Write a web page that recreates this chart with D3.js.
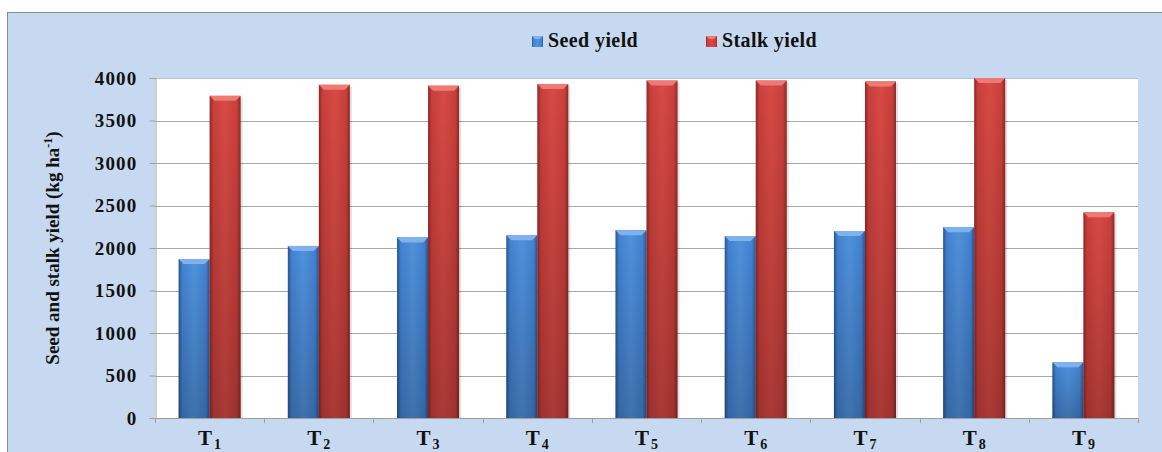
<!DOCTYPE html>
<html>
<head>
<meta charset="utf-8">
<script src="https://cdn.jsdelivr.net/npm/d3@7"></script>
<style>
	html, body { margin: 0; padding: 0; background: #fff; }
	svg { display: block; }
	svg text { font-family: "Liberation Serif", "DejaVu Serif", "Times New Roman", serif !important; font-weight: bold; }
</style>
</head>
<body>
<div id="chart"><svg></svg></div>
<script>
// values
const treatments = ['1', '2', '3', '4', '5', '6', '7', '8', '9'];
const seedYield = [1870, 2025, 2125, 2150, 2210, 2140, 2200, 2245, 655];
const stalkYield = [3790, 3920, 3910, 3930, 3970, 3970, 3960, 4000, 2420];
const seriesNames = ['Seed yield', 'Stalk yield'];
const yTicks = [0, 500, 1000, 1500, 2000, 2500, 3000, 3500, 4000];

const width = 1162;
const height = 452;
const plot = { left: 155, right: 1138, top: 78, bottom: 418 };

const $svg = d3.select('#chart svg').attr('width', width).attr('height', height);

function defs() {
	const $defs = $svg.append('defs');
	const shades = [
		{ id: 'blue', edge: '#2a5590', mid: '#4282d2', light: '#5192dc' },
		{ id: 'red', edge: '#8f2826', mid: '#c93f3b', light: '#d84a45' }
	];
	shades.forEach(s => {
		const h = $defs.append('linearGradient').attr('id', `h-${s.id}`)
			.attr('x1', 0).attr('x2', 1).attr('y1', 0).attr('y2', 0);
		h.append('stop').attr('offset', 0).attr('stop-color', s.edge);
		h.append('stop').attr('offset', 0.12).attr('stop-color', s.mid);
		h.append('stop').attr('offset', 0.5).attr('stop-color', s.light);
		h.append('stop').attr('offset', 0.88).attr('stop-color', s.mid);
		h.append('stop').attr('offset', 1).attr('stop-color', s.edge);

		const v = $defs.append('linearGradient').attr('id', `v-${s.id}`)
			.attr('x1', 0).attr('x2', 0).attr('y1', 0).attr('y2', 1);
		v.append('stop').attr('offset', 0).attr('stop-color', '#000').attr('stop-opacity', 0);
		v.append('stop').attr('offset', 1).attr('stop-color', '#000').attr('stop-opacity', 0.22);
	});
}

function setup() {
	defs();

	// background panel
	$svg.append('rect')
		.attr('x', 7.5).attr('y', 12.5)
		.attr('width', width).attr('height', height)
		.attr('fill', '#c6d9f0')
		.attr('stroke', '#8c8c8c');

	$svg.append('rect')
		.attr('x', plot.left).attr('y', plot.top)
		.attr('width', plot.right - plot.left).attr('height', plot.bottom - plot.top)
		.attr('fill', '#fff');

	const x0 = d3.scaleBand().domain(treatments).range([plot.left, plot.right]);
	const x1 = d3.scaleBand().domain(seriesNames).range([0, x0.bandwidth()])
		.paddingInner(0).paddingOuter(0.76);
	const y = d3.scaleLinear().domain([0, 4000]).range([plot.bottom, plot.top]);

	// gridlines
	$svg.append('g')
		.selectAll('line')
		.data(yTicks)
		.join('line')
		.attr('x1', plot.left).attr('x2', plot.right)
		.attr('y1', d => Math.round(y(d)) + 0.5).attr('y2', d => Math.round(y(d)) + 0.5)
		.attr('stroke', d => d === 4000 ? '#b4c2d4' : '#a8a8a8');

	// y axis
	const yAxis = d3.axisLeft(y).tickValues(yTicks).tickFormat(d3.format('d'))
		.tickSize(6).tickPadding(12);
	const $y = $svg.append('g')
		.attr('transform', `translate(${plot.left + 0.5},0)`)
		.call(yAxis)
		.attr('font-family', null);
	$y.select('.domain').attr('stroke', '#a0a0a0');
	$y.selectAll('.tick line').attr('stroke', '#a0a0a0');
	$y.selectAll('.tick text')
		.attr('font-size', 19)
		.attr('letter-spacing', 1.2)
		.attr('fill', '#111')
		.attr('dy', '0.33em');

	// x axis line and boundary ticks
	const $x = $svg.append('g');
	$x.append('line')
		.attr('x1', plot.left).attr('x2', plot.right)
		.attr('y1', plot.bottom + 0.5).attr('y2', plot.bottom + 0.5)
		.attr('stroke', '#a0a0a0');
	const bounds = treatments.map(t => x0(t)).concat([plot.right]);
	$x.selectAll('line.tk')
		.data(bounds)
		.join('line')
		.attr('class', 'tk')
		.attr('x1', d => Math.round(d) + 0.5).attr('x2', d => Math.round(d) + 0.5)
		.attr('y1', plot.bottom).attr('y2', plot.bottom + 5)
		.attr('stroke', '#a0a0a0');

	const $lab = $x.selectAll('text.cat')
		.data(treatments)
		.join('text')
		.attr('class', 'cat')
		.attr('x', d => x0(d) + x0.bandwidth() / 2)
		.attr('y', 445)
		.attr('text-anchor', 'middle')
		.attr('fill', '#111');
	$lab.append('tspan').attr('font-size', 21).text('T');
	$lab.append('tspan').attr('font-size', 14).attr('dx', 2).attr('dy', 4).text(d => d);

	// bars
	const rows = treatments.map((t, i) => ({ t, vals: [seedYield[i], stalkYield[i]] }));
	const colors = ['blue', 'red'];
	const $groups = $svg.append('g')
		.selectAll('g')
		.data(rows)
		.join('g')
		.attr('transform', d => `translate(${x0(d.t)},0)`);

	const $bars = $groups.selectAll('g')
		.data(d => d.vals.map((v, i) => ({ v, s: seriesNames[i], c: colors[i] })))
		.join('g');

	$bars.append('rect')
		.attr('x', d => x1(d.s) + 2).attr('y', d => y(d.v) + 2)
		.attr('width', x1.bandwidth()).attr('height', d => plot.bottom - y(d.v) - 2)
		.attr('fill', '#000').attr('opacity', 0.12);
	$bars.append('rect')
		.attr('x', d => x1(d.s)).attr('y', d => y(d.v))
		.attr('width', x1.bandwidth()).attr('height', d => plot.bottom - y(d.v))
		.attr('fill', d => `url(#h-${d.c})`);
	$bars.append('rect')
		.attr('x', d => x1(d.s)).attr('y', d => y(d.v))
		.attr('width', x1.bandwidth()).attr('height', d => plot.bottom - y(d.v))
		.attr('fill', d => `url(#v-${d.c})`);
	// top bevel
	$bars.append('path')
		.attr('d', d => {
			const l = x1(d.s), r = l + x1.bandwidth(), t = y(d.v);
			return `M${l},${t}L${r},${t}L${r - 5},${t + 5}L${l + 5},${t + 5}Z`;
		})
		.attr('fill', d => d.c === 'blue' ? '#7fb2ec' : '#ee7a74');

	// legend
	const legendX = [532, 706];
	const $leg = $svg.append('g')
		.selectAll('g')
		.data(seriesNames)
		.join('g')
		.attr('transform', (d, i) => `translate(${legendX[i]},36)`);
	$leg.append('rect')
		.attr('width', 11).attr('height', 11)
		.attr('fill', (d, i) => `url(#h-${colors[i]})`);
	$leg.append('path')
		.attr('d', 'M0,0L11,0L8,3L3,3Z')
		.attr('fill', (d, i) => i === 0 ? '#7fb2ec' : '#ee7a74');
	$leg.append('text')
		.attr('x', 16).attr('y', 11)
		.attr('font-size', 20)
		.attr('letter-spacing', 0.4)
		.attr('fill', '#111')
		.text(d => d);

	// y label
	const $yl = $svg.append('text')
		.attr('transform', 'translate(59,248) rotate(-90)')
		.attr('text-anchor', 'middle')
		.attr('font-size', 19)
		.attr('fill', '#111');
	$yl.append('tspan').text('Seed and stalk yield  (kg ha');
	$yl.append('tspan').attr('font-size', 12).attr('dy', -7).text('-1');
	$yl.append('tspan').attr('dy', 7).text(')');
}

function init() {
	setup();
}

init();
</script>
</body>
</html>
